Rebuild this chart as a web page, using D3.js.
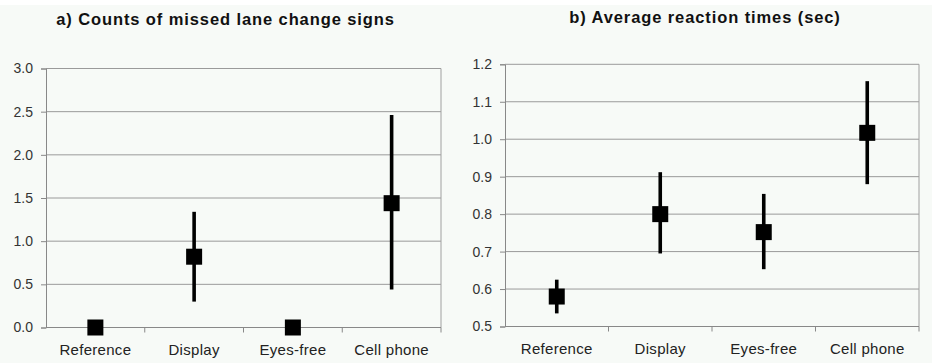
<!DOCTYPE html>
<html>
<head>
<meta charset="utf-8">
<script src="https://cdn.jsdelivr.net/npm/d3@7"></script>
<style>
  html, body { margin: 0; padding: 0; background: #f7faf7; }
  svg { display: block; }
  text { font-family: "Liberation Sans", Arial, sans-serif; }
</style>
</head>
<body>
<svg id="chart" width="932" height="363"></svg>
<script>
// Conditions shown on both panels
const categories = ["Reference", "Display", "Eyes-free", "Cell phone"];

// Panel a: counts of missed lane change signs
const missedMean = [0, 0.82, 0, 1.44];
const missedLow  = [0, 0.30, 0, 0.44];
const missedHigh = [0, 1.34, 0, 2.46];
const missedTicks = [0, 0.5, 1.0, 1.5, 2.0, 2.5, 3.0];

// Panel b: average reaction times (sec)
const rtMean = [0.58, 0.80, 0.752, 1.017];
const rtLow  = [0.535, 0.695, 0.653, 0.880];
const rtHigh = [0.625, 0.912, 0.854, 1.155];
const rtTicks = [0.5, 0.6, 0.7, 0.8, 0.9, 1.0, 1.1, 1.2];

const svg = d3.select("#chart");

// thin white strip along the top edge
svg.append("rect").attr("x", 0).attr("y", 0).attr("width", 932).attr("height", 5).attr("fill", "#ffffff");

function panel(opts) {
  const g = svg.append("g");
  const x = d3.scaleBand().domain(categories).range([opts.x0, opts.x1]);
  const y = d3.scaleLinear().domain(opts.domain).range([opts.y0, opts.y1]);

  // horizontal gridlines
  g.selectAll("line.grid").data(opts.ticks).join("line")
    .attr("class", "grid")
    .attr("x1", opts.x0).attr("x2", opts.x1)
    .attr("y1", d => y(d)).attr("y2", d => y(d))
    .attr("stroke", "#9a9a9a").attr("stroke-width", 1);

  // right border of plot area
  g.append("line")
    .attr("x1", opts.x1).attr("x2", opts.x1)
    .attr("y1", y(opts.domain[1])).attr("y2", y(opts.domain[0]))
    .attr("stroke", "#a0a0a0");

  // y axis
  const yAxis = d3.axisLeft(y).tickValues(opts.ticks).tickFormat(d3.format(".1f")).tickSize(5).tickPadding(8);
  const ya = g.append("g").attr("transform", `translate(${opts.x0},0)`).call(yAxis);
  ya.select(".domain").attr("stroke", "#888");
  ya.selectAll(".tick line").attr("stroke", "#888");
  ya.selectAll(".tick text").attr("font-size", 14).attr("fill", "#333")
    .style("font-family", "'Liberation Sans', Arial, sans-serif");

  // x axis with ticks between categories
  const xa = g.append("g").attr("transform", `translate(0,${y(opts.domain[0])})`);
  xa.append("line").attr("x1", opts.x0).attr("x2", opts.x1).attr("y1", 0).attr("y2", 0).attr("stroke", "#888");
  const bounds = categories.map(c => x(c) + x.bandwidth());
  xa.selectAll("line.sep").data(bounds).join("line")
    .attr("class", "sep")
    .attr("x1", d => d).attr("x2", d => d).attr("y1", 0).attr("y2", 5)
    .attr("stroke", "#888");
  xa.selectAll("text").data(categories).join("text")
    .attr("x", d => x(d) + x.bandwidth() / 2)
    .attr("y", 27)
    .attr("text-anchor", "middle")
    .attr("font-size", 15)
    .attr("letter-spacing", 0.3)
    .attr("fill", "#222")
    .text(d => d);

  // error bars
  const rows = categories.map((c, i) => ({ c, m: opts.mean[i], lo: opts.low[i], hi: opts.high[i] }));
  g.selectAll("line.err").data(rows.filter(d => d.hi > d.lo)).join("line")
    .attr("class", "err")
    .attr("x1", d => x(d.c) + x.bandwidth() / 2).attr("x2", d => x(d.c) + x.bandwidth() / 2)
    .attr("y1", d => y(d.lo)).attr("y2", d => y(d.hi))
    .attr("stroke", "#000").attr("stroke-width", 3.6);

  // mean markers
  const s = 16;
  g.selectAll("rect.mean").data(rows).join("rect")
    .attr("class", "mean")
    .attr("x", d => x(d.c) + x.bandwidth() / 2 - s / 2)
    .attr("y", d => y(d.m) - s / 2)
    .attr("width", s).attr("height", s)
    .attr("fill", "#000");

  // title
  svg.append("text")
    .attr("x", opts.titleX).attr("y", opts.titleY)
    .attr("text-anchor", "middle")
    .attr("font-size", 16.5)
    .attr("font-weight", "bold")
    .attr("letter-spacing", 0.9)
    .attr("fill", "#111")
    .text(opts.title);
}

panel({
  x0: 46, x1: 441, y0: 327.5, y1: 68.5,
  domain: [0, 3], ticks: missedTicks,
  mean: missedMean, low: missedLow, high: missedHigh,
  title: "a) Counts of missed lane change signs", titleX: 225.5, titleY: 24.5
});

panel({
  x0: 505, x1: 919, y0: 326.5, y1: 64.3,
  domain: [0.5, 1.2], ticks: rtTicks,
  mean: rtMean, low: rtLow, high: rtHigh,
  title: "b) Average reaction times (sec)", titleX: 705, titleY: 23
});
</script>
</body>
</html>
